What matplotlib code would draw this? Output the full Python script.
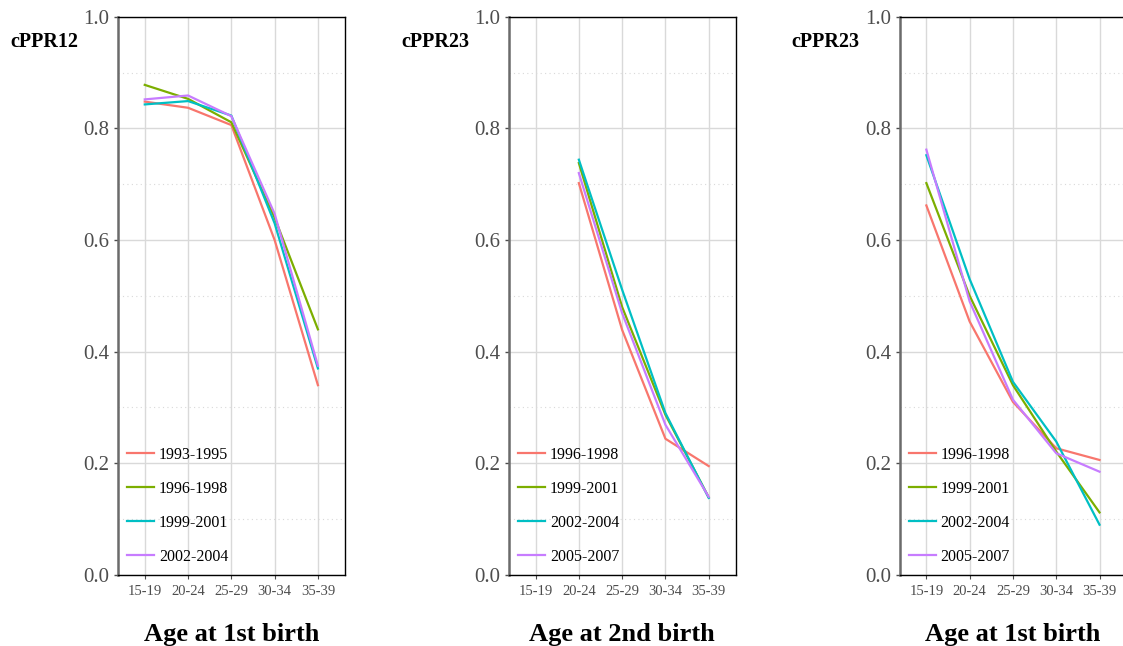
import matplotlib
matplotlib.use("Agg")
import matplotlib.pyplot as plt
from matplotlib.ticker import MultipleLocator

plt.rcParams["font.family"] = ["Liberation Serif", "DejaVu Serif"]

age_groups = ["15-19", "20-24", "25-29", "30-34", "35-39"]
colors = ["#F8766D", "#7CAE00", "#00BFC4", "#C77CFF"]

# panel 1: cPPR12 by age at 1st birth
p1_cohorts = ["1993-1995", "1996-1998", "1999-2001", "2002-2004"]
p1_values = [
    [0.848, 0.837, 0.806, 0.600, 0.340],
    [0.878, 0.853, 0.811, 0.640, 0.440],
    [0.843, 0.849, 0.823, 0.630, 0.370],
    [0.852, 0.859, 0.822, 0.647, 0.375],
]

# panel 2: cPPR23 by age at 2nd birth (no 15-19 group)
p2_cohorts = ["1996-1998", "1999-2001", "2002-2004", "2005-2007"]
p2_values = [
    [None, 0.702, 0.439, 0.244, 0.195],
    [None, 0.738, 0.480, 0.287, 0.139],
    [None, 0.744, 0.511, 0.290, 0.138],
    [None, 0.720, 0.469, 0.269, 0.140],
]

# panel 3: cPPR23 by age at 1st birth
p3_cohorts = ["1996-1998", "1999-2001", "2002-2004", "2005-2007"]
p3_values = [
    [0.662, 0.454, 0.310, 0.227, 0.206],
    [0.702, 0.500, 0.340, 0.221, 0.112],
    [0.752, 0.530, 0.346, 0.239, 0.090],
    [0.762, 0.490, 0.314, 0.218, 0.185],
]

panels = [
    ("cPPR12", "Age at 1st birth", p1_cohorts, p1_values),
    ("cPPR23", "Age at 2nd birth", p2_cohorts, p2_values),
    ("cPPR23", "Age at 1st birth", p3_cohorts, p3_values),
]

fig = plt.figure(figsize=(11.23, 6.46), dpi=100)
lefts = [0.105, 0.453, 0.801]

for left, (ylab, xlab, cohorts, values) in zip(lefts, panels):
    ax = fig.add_axes([left, 0.110, 0.202, 0.864])
    xs = list(range(len(age_groups)))
    for cohort, vals, color in zip(cohorts, values, colors):
        pts = [(x, v) for x, v in zip(xs, vals) if v is not None]
        ax.plot([p[0] for p in pts], [p[1] for p in pts], color=color,
                lw=1.6, label=cohort, zorder=3)

    ax.set_xlim(-0.62, 4.62)
    ax.set_ylim(0, 1.0)
    ax.set_xticks(xs)
    ax.set_xticklabels(age_groups)
    ax.yaxis.set_major_locator(MultipleLocator(0.2))
    ax.yaxis.set_minor_locator(MultipleLocator(0.1))
    ax.set_yticklabels([f"{t:.1f}" for t in ax.get_yticks()])

    ax.grid(which="major", axis="both", color="#d9d9d9", lw=1.0, zorder=0)
    ax.grid(which="minor", axis="y", color="#d9d9d9", lw=0.8,
            linestyle=(0, (1, 3)), zorder=0)
    ax.set_axisbelow(True)

    ax.tick_params(axis="y", which="major", labelsize=15, colors="#4d4d4d",
                   length=3, width=1, labelcolor="#4d4d4d", pad=3)
    ax.tick_params(axis="y", which="minor", length=0)
    ax.tick_params(axis="x", labelsize=10.5, length=3, width=0.8,
                   colors="#4d4d4d", pad=4)

    ax.spines["left"].set_color("#6b6b6b")
    ax.spines["left"].set_linewidth(1.8)
    for side in ["top", "right", "bottom"]:
        ax.spines[side].set_color("black")
        ax.spines[side].set_linewidth(1.0)

    ax.text(-0.175, 0.955, ylab, transform=ax.transAxes, ha="right",
            va="center", fontsize=14.5, fontweight="bold")
    ax.set_xlabel(xlab, fontsize=19, fontweight="bold", labelpad=18)

    ax.legend(loc="lower left", frameon=False, fontsize=11.5,
              handlelength=1.7, handletextpad=0.3, labelspacing=1.12,
              borderaxespad=0.25, bbox_to_anchor=(-0.005, 0.0))

fig.savefig("out.png", dpi=100)
